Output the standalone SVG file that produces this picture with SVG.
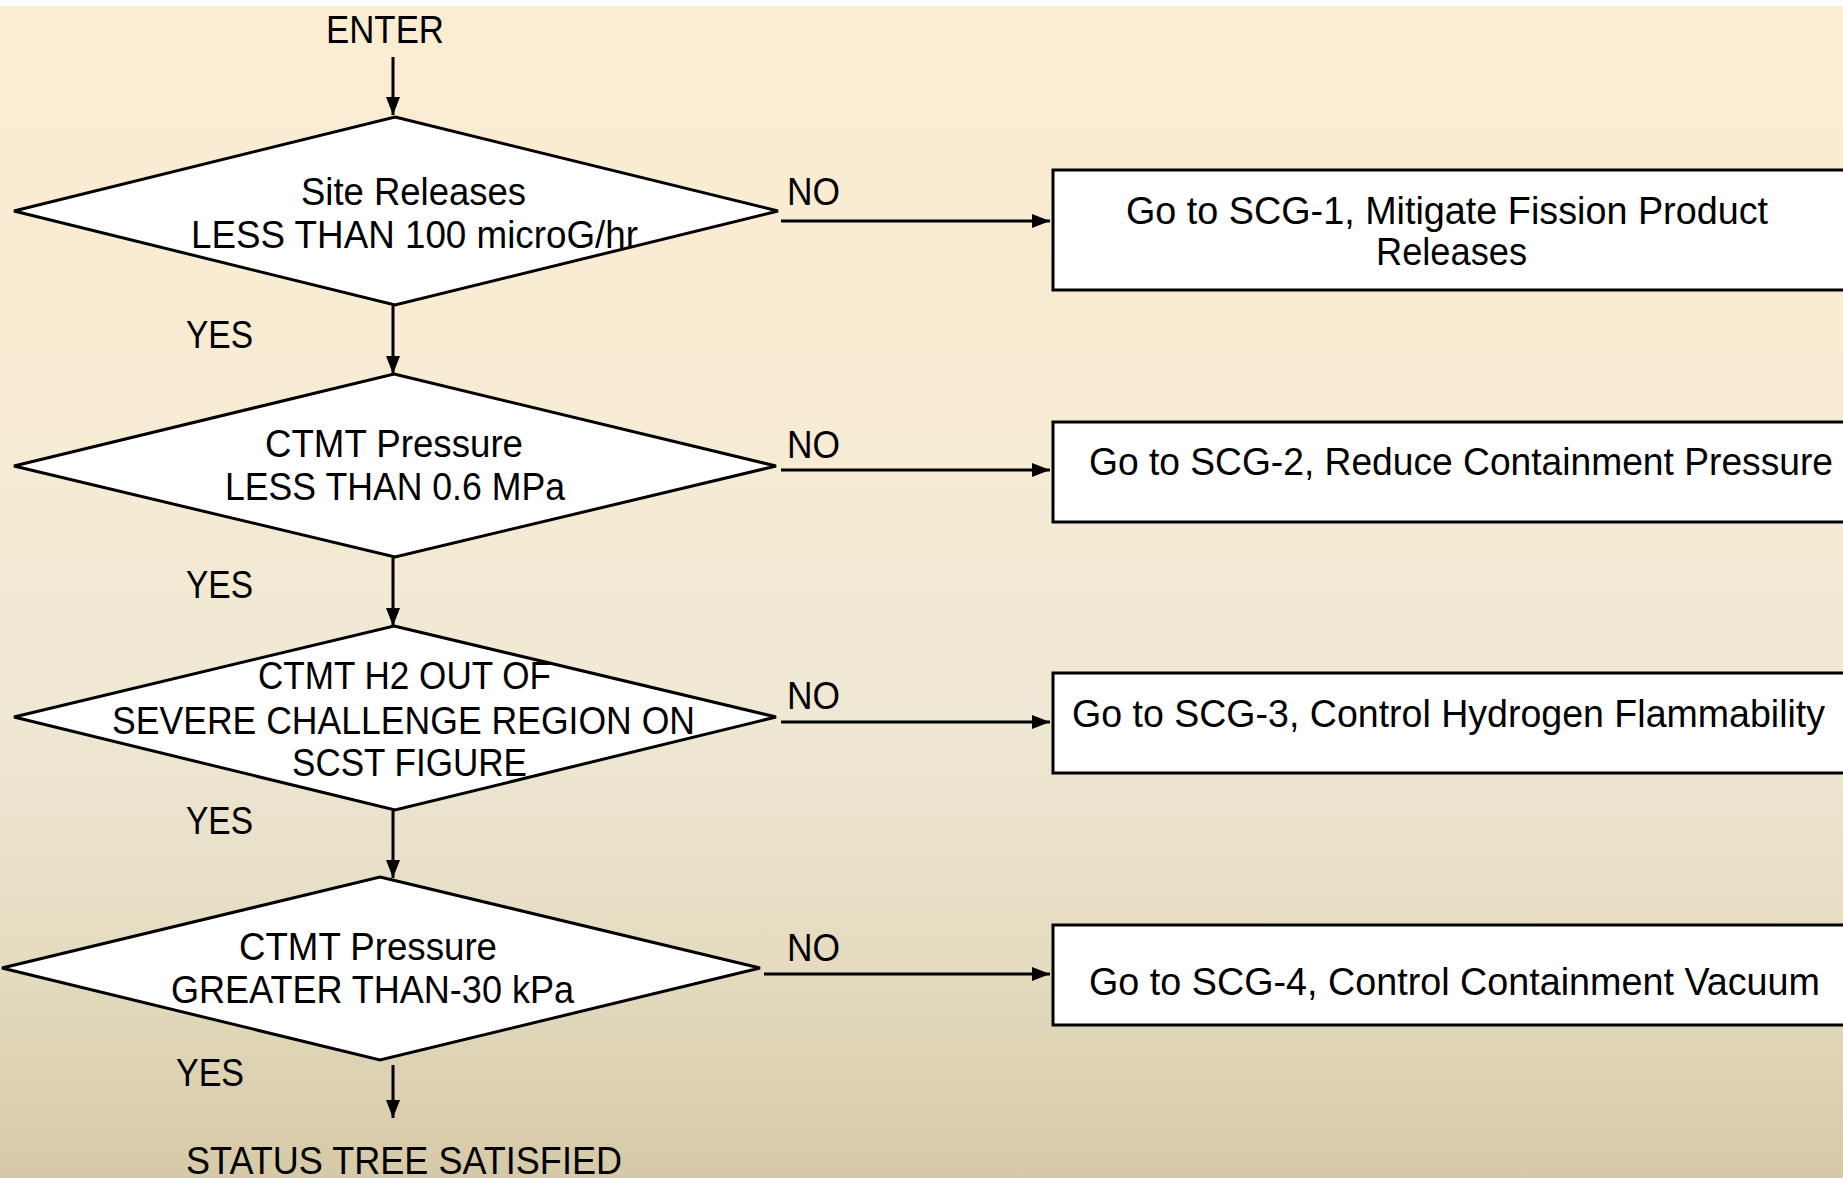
<svg xmlns="http://www.w3.org/2000/svg" width="1843" height="1178" viewBox="0 0 1843 1178">
  <defs>
    <linearGradient id="bg" x1="0" y1="6" x2="0" y2="1178" gradientUnits="userSpaceOnUse">
      <stop offset="0" stop-color="#FCEDD2"/>
      <stop offset="0.4" stop-color="#F6EBD4"/>
      <stop offset="0.6" stop-color="#EFE8D4"/>
      <stop offset="0.82" stop-color="#E4DBC0"/>
      <stop offset="1" stop-color="#D6C9A7"/>
    </linearGradient>
    <marker id="arrow" markerUnits="userSpaceOnUse" markerWidth="18" markerHeight="14" refX="18" refY="7" orient="auto">
      <path d="M0,0 L18,7 L0,14 Z" fill="#000"/>
    </marker>
    <style>
      text { font-family: "Liberation Sans", Arial, sans-serif; font-size: 38px; fill: #000; }
      .dia { fill: #fff; stroke: #000; stroke-width: 3; }
      .box { fill: #fff; stroke: #000; stroke-width: 3; }
      .edge { stroke: #000; stroke-width: 3; fill: none; marker-end: url(#arrow); }
    </style>
  </defs>

  <!-- page -->
  <rect x="0" y="0" width="1843" height="1178" fill="#fff"/>
  <rect x="0" y="6" width="1843" height="1172" fill="url(#bg)"/>

  <!-- connectors -->
  <g id="connectors">
    <line class="edge" x1="393" y1="57" x2="393" y2="115"/>
    <line class="edge" x1="393" y1="306" x2="393" y2="374"/>
    <line class="edge" x1="393" y1="558" x2="393" y2="626"/>
    <line class="edge" x1="393" y1="811" x2="393" y2="878"/>
    <line class="edge" x1="393" y1="1065" x2="393" y2="1118"/>
    <line class="edge" x1="781" y1="221" x2="1050" y2="221"/>
    <line class="edge" x1="781" y1="470" x2="1050" y2="470"/>
    <line class="edge" x1="781" y1="722" x2="1050" y2="722"/>
    <line class="edge" x1="764" y1="974" x2="1050" y2="974"/>
    <text x="787" y="205" textLength="53" lengthAdjust="spacingAndGlyphs">NO</text>
    <text x="787" y="458" textLength="53" lengthAdjust="spacingAndGlyphs">NO</text>
    <text x="787" y="709" textLength="53" lengthAdjust="spacingAndGlyphs">NO</text>
    <text x="787" y="961" textLength="53" lengthAdjust="spacingAndGlyphs">NO</text>
    <text x="186" y="348" textLength="67" lengthAdjust="spacingAndGlyphs">YES</text>
    <text x="186" y="598" textLength="67" lengthAdjust="spacingAndGlyphs">YES</text>
    <text x="186" y="834" textLength="67" lengthAdjust="spacingAndGlyphs">YES</text>
    <text x="176" y="1086" textLength="68" lengthAdjust="spacingAndGlyphs">YES</text>
  </g>

  <!-- entry and exit labels -->
  <g id="enter">
    <text x="326" y="43" textLength="118" lengthAdjust="spacingAndGlyphs">ENTER</text>
  </g>
  <g id="satisfied">
    <text x="186" y="1174" textLength="436" lengthAdjust="spacingAndGlyphs">STATUS TREE SATISFIED</text>
  </g>

  <!-- decisions -->
  <g id="d1">
    <polygon class="dia" points="395,117 778,211 395,305 14,211"/>
    <text x="301" y="205" textLength="225" lengthAdjust="spacingAndGlyphs">Site Releases</text>
    <text x="191" y="248" textLength="447" lengthAdjust="spacingAndGlyphs">LESS THAN 100 microG/hr</text>
  </g>
  <g id="d2">
    <polygon class="dia" points="394,374 776,466 395,557 14,466"/>
    <text x="265" y="457" textLength="258" lengthAdjust="spacingAndGlyphs">CTMT Pressure</text>
    <text x="225" y="500" textLength="340" lengthAdjust="spacingAndGlyphs">LESS THAN 0.6 MPa</text>
  </g>
  <g id="d3">
    <polygon class="dia" points="394,626 776,717 395,810 14,717"/>
    <text x="258" y="689" textLength="293" lengthAdjust="spacingAndGlyphs">CTMT H2 OUT OF</text>
    <text x="112" y="734" textLength="583" lengthAdjust="spacingAndGlyphs">SEVERE CHALLENGE REGION ON</text>
    <text x="292" y="776" textLength="235" lengthAdjust="spacingAndGlyphs">SCST FIGURE</text>
  </g>
  <g id="d4">
    <polygon class="dia" points="380,877 760,968 380,1060 2,968"/>
    <text x="239" y="960" textLength="258" lengthAdjust="spacingAndGlyphs">CTMT Pressure</text>
    <text x="171" y="1003" textLength="403" lengthAdjust="spacingAndGlyphs">GREATER THAN-30 kPa</text>
  </g>

  <!-- actions -->
  <g id="scg1">
    <rect class="box" x="1053" y="170" width="810" height="120"/>
    <text x="1126" y="224" textLength="642" lengthAdjust="spacingAndGlyphs">Go to SCG-1, Mitigate Fission Product</text>
    <text x="1376" y="265" textLength="151" lengthAdjust="spacingAndGlyphs">Releases</text>
  </g>
  <g id="scg2">
    <rect class="box" x="1053" y="422" width="810" height="100"/>
    <text x="1089" y="475" textLength="744" lengthAdjust="spacingAndGlyphs">Go to SCG-2, Reduce Containment Pressure</text>
  </g>
  <g id="scg3">
    <rect class="box" x="1053" y="673" width="810" height="100"/>
    <text x="1072" y="727" textLength="753" lengthAdjust="spacingAndGlyphs">Go to SCG-3, Control Hydrogen Flammability</text>
  </g>
  <g id="scg4">
    <rect class="box" x="1053" y="925" width="810" height="100"/>
    <text x="1089" y="995" textLength="731" lengthAdjust="spacingAndGlyphs">Go to SCG-4, Control Containment Vacuum</text>
  </g>
</svg>
